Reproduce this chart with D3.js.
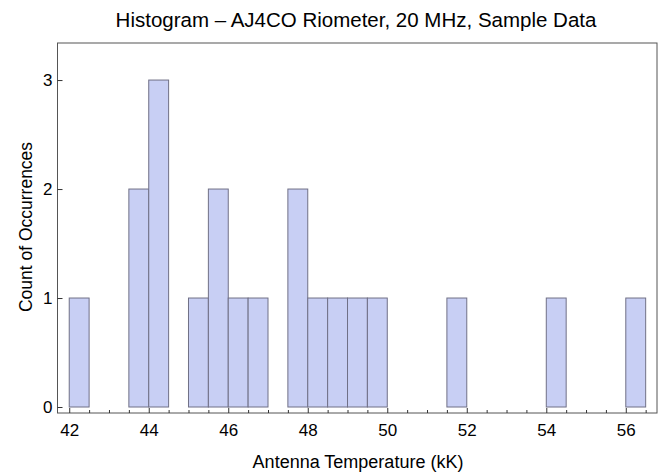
<!DOCTYPE html>
<html>
<head>
<meta charset="utf-8">
<script src="https://cdn.jsdelivr.net/npm/d3@7"></script>
<style>
  html, body { margin: 0; padding: 0; background: #fff; }
  svg { display: block; }
  text { font-family: "Liberation Sans", Arial, sans-serif; fill: #000; }
</style>
</head>
<body>
<svg id="chart" width="659" height="472"></svg>
<script>
// ---- data ----
const binLow   = [42, 43.5, 44, 45, 45.5, 46, 46.5, 47.5, 48, 48.5, 49, 49.5, 51.5, 54, 56];
const counts   = [1,  2,    3,  1,  2,    1,  1,    2,    1,  1,    1,  1,    1,    1,  1];
const binWidth = 0.5;
const xTickValues = [42, 44, 46, 48, 50, 52, 54, 56];
const xMinorTickValues = [42.5, 43, 43.5, 44.5, 45, 45.5, 46.5, 47, 47.5, 48.5, 49, 49.5, 50.5, 51, 51.5, 52.5, 53, 53.5, 54.5, 55, 55.5, 56.5];
const yTickValues = [0, 1, 2, 3];
const titleText = "Histogram \u2013  AJ4CO Riometer, 20 MHz, Sample Data";
const xLabelText = "Antenna Temperature (kK)";
const yLabelText = "Count of Occurrences";

// ---- layout ----
const svg = d3.select("#chart");
const frame = { left: 57.5, right: 657, top: 43, bottom: 413 };

const x = d3.scaleLinear().domain([41.705, 56.785]).range([frame.left, frame.right]);
const y = d3.scaleLinear().domain([-0.055, 3.34]).range([frame.bottom, frame.top]);

const data = binLow.map((lo, i) => ({ lo, hi: lo + binWidth, n: counts[i] }));

// bars
svg.append("g").selectAll("rect").data(data).join("rect")
  .attr("x", d => x(d.lo))
  .attr("y", d => y(d.n))
  .attr("width", d => x(d.hi) - x(d.lo))
  .attr("height", d => y(0) - y(d.n))
  .attr("fill", "#c8cff4")
  .attr("stroke", "#707086")
  .attr("stroke-width", 1);

// frame
svg.append("rect")
  .attr("x", frame.left).attr("y", frame.top)
  .attr("width", frame.right - frame.left).attr("height", frame.bottom - frame.top)
  .attr("fill", "none").attr("stroke", "#555").attr("stroke-width", 1);

// x axis (ticks inward)
const xAxis = d3.axisBottom(x).tickValues(xTickValues).tickSize(-5).tickPadding(11).tickFormat(d3.format("d"));
const gx = svg.append("g").attr("transform", `translate(0,${frame.bottom})`).call(xAxis);
gx.select(".domain").remove();
gx.selectAll(".tick line").attr("stroke", "#333");
gx.selectAll(".tick text").attr("font-size", 17).attr("font-family", "Liberation Sans, Arial, sans-serif").attr("fill", "#000");

const xMinor = d3.axisBottom(x).tickValues(xMinorTickValues).tickSize(-3).tickFormat("");
const gxm = svg.append("g").attr("transform", `translate(0,${frame.bottom})`).call(xMinor);
gxm.select(".domain").remove();
gxm.selectAll(".tick line").attr("stroke", "#333");

// y axis
const yAxis = d3.axisLeft(y).tickValues(yTickValues).tickSize(-5).tickPadding(5).tickFormat(d3.format("d"));
const gy = svg.append("g").attr("transform", `translate(${frame.left},0)`).call(yAxis);
gy.select(".domain").remove();
gy.selectAll(".tick line").attr("stroke", "#333");
gy.selectAll(".tick text").attr("font-size", 17).attr("font-family", "Liberation Sans, Arial, sans-serif").attr("fill", "#000");

// title & labels
svg.append("text").attr("x", 356).attr("y", 27).attr("text-anchor", "middle")
  .attr("font-size", 20.5).text(titleText);
svg.append("text").attr("x", 358).attr("y", 468).attr("text-anchor", "middle")
  .attr("font-size", 18).text(xLabelText);
svg.append("text").attr("transform", "translate(32,227) rotate(-90)").attr("text-anchor", "middle")
  .attr("font-size", 17.5).text(yLabelText);
</script>
</body>
</html>
